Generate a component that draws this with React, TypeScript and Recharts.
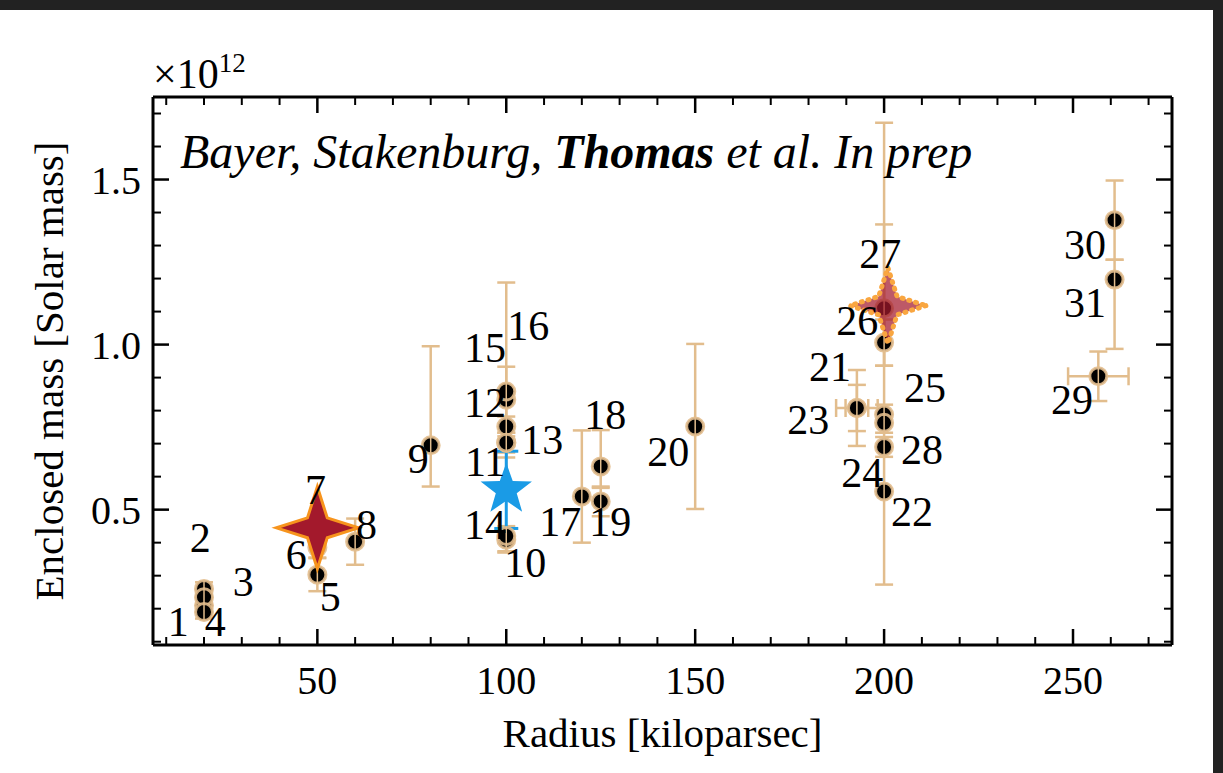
import React from "react";
import { ScatterChart, Scatter, XAxis, YAxis, ErrorBar } from "recharts";

// galaxies (black dots with tan error bars)
const pointIds = [1, 2, 3, 4, 5, 6, 8, 9, 10, 11, 12, 13, 14, 15, 16, 17, 18, 19, 20, 21, 22, 23, 24, 25, 26, 27, 28, 29, 30, 31];
const radius = [20, 20, 20, 20, 50, 50, 60, 80, 100, 100, 100, 100, 100, 100, 100, 120, 125, 125, 150, 192.8, 200, 192.8, 200, 200, 200, 200, 200, 256.7, 261, 261];
const mass = [0.21, 0.26, 0.235, 0.19, 0.303, 0.385, 0.403, 0.695, 0.409, 0.703, 0.752, 0.703, 0.42, 0.833, 0.858, 0.54, 0.631, 0.525, 0.752, 0.808, 0.555, 0.808, 0.69, 0.788, 1.006, 1.11, 0.763, 0.904, 1.377, 1.197];
const massErrLow = [0.02, 0.02, 0.02, 0.02, 0.05, 0.03, 0.07, 0.125, 0.035, 0.045, 0.03, 0.03, 0.05, 0.1, 0.33, 0.14, 0.065, 0.045, 0.25, 0.115, 0.282, 0.07, 0.03, 0.03, 0.07, 0.174, 0.03, 0.075, 0.12, 0.21];
const massErrHigh = [0.02, 0.02, 0.02, 0.02, 0.05, 0.03, 0.07, 0.3, 0.035, 0.045, 0.03, 0.03, 0.03, 0.1, 0.33, 0.2, 0.11, 0.045, 0.25, 0.115, 1.117, 0.07, 0.03, 0.03, 0.07, 0.254, 0.03, 0.075, 0.12, 0.06];
const radiusErr = [0, 0, 0, 0, 0, 0, 0, 0, 0, 0, 0, 0, 0, 0, 0, 0, 0, 0, 0, 3, 0, 5.5, 0, 0, 0, 0, 0, 8, 0, 0];

// number labels (data coordinates of the text centre)
const labelText = ["1", "2", "3", "4", "5", "6", "7", "8", "9", "10", "11", "12", "13", "14", "15", "16", "17", "18", "19", "20", "21", "22", "23", "24", "25", "26", "27", "28", "29", "30", "31"];
const labelRadius = [13.2, 19, 30.4, 23, 53.4, 44.4, 49.5, 63, 76.7, 105, 94.4, 94.4, 109.5, 94.4, 94.4, 105.8, 114.3, 126.2, 127.5, 142.9, 185.7, 207.4, 179.9, 194.2, 210.8, 192.9, 199, 210, 249.7, 253.2, 253.2];
const labelMass = [0.161, 0.415, 0.282, 0.161, 0.236, 0.364, 0.561, 0.455, 0.652, 0.339, 0.645, 0.824, 0.712, 0.455, 0.991, 1.055, 0.464, 0.788, 0.464, 0.676, 0.933, 0.494, 0.773, 0.612, 0.87, 1.07, 1.273, 0.682, 0.833, 1.303, 1.127];

// highlighted objects
const mwRadius = [50];
const mwMass = [0.445];
const m31Radius = [201];
const m31Mass = [1.118];
const blueRadius = [100];
const blueMass = [0.56];
const blueErr = [0.117];

const xTicks = [10, 20, 30, 40, 50, 60, 70, 80, 90, 100, 110, 120, 130, 140, 150, 160, 170, 180, 190, 200, 210, 220, 230, 240, 250, 260, 270];
const yTicks = [0.1, 0.2, 0.3, 0.4, 0.5, 0.6, 0.7, 0.8, 0.9, 1.0, 1.1, 1.2, 1.3, 1.4, 1.5, 1.6, 1.7];

const points = pointIds.map((id, i) => ({
  id,
  x: radius[i],
  y: mass[i],
  ey: [massErrLow[i], massErrHigh[i]],
  ex: radiusErr[i] || undefined,
}));
const labels = labelText.map((t, i) => ({ t, x: labelRadius[i], y: labelMass[i] }));
const mw = mwRadius.map((x, i) => ({ x, y: mwMass[i] }));
const m31 = m31Radius.map((x, i) => ({ x, y: m31Mass[i] }));
const blue = blueRadius.map((x, i) => ({ x, y: blueMass[i], ey: blueErr[i] }));

const SERIF = "'Liberation Serif', 'Times New Roman', serif";
const TAN = "#e2bd8d";
const X_DOMAIN: [number, number] = [6.5, 276.2];
const Y_DOMAIN: [number, number] = [0.09, 1.75];

const isMajorX = (v: number) => v % 50 === 0;
const isMajorY = (v: number) => Math.round(v * 10) % 5 === 0;

function BottomTick({ x, y, payload }: any) {
  const major = isMajorX(payload.value);
  return (
    <g>
      <line x1={x} y1={y} x2={x} y2={y - (major ? 16 : 8)} stroke="#000" strokeWidth={major ? 2.5 : 2} />
      {major && (
        <text x={x} y={y + 49} textAnchor="middle" fontSize={40} fontFamily={SERIF} fill="#000">
          {payload.value}
        </text>
      )}
    </g>
  );
}

function TopTick({ x, y, payload }: any) {
  const major = isMajorX(payload.value);
  return <line x1={x} y1={y} x2={x} y2={y + (major ? 16 : 8)} stroke="#000" strokeWidth={major ? 2.5 : 2} />;
}

function LeftTick({ x, y, payload }: any) {
  const major = isMajorY(payload.value);
  return (
    <g>
      <line x1={x} y1={y} x2={x + (major ? 16 : 8)} y2={y} stroke="#000" strokeWidth={major ? 2.5 : 2} />
      {major && (
        <text x={x - 12} y={y + 14} textAnchor="end" fontSize={40} fontFamily={SERIF} fill="#000">
          {payload.value.toFixed(1)}
        </text>
      )}
    </g>
  );
}

function RightTick({ x, y, payload }: any) {
  const major = isMajorY(payload.value);
  return <line x1={x} y1={y} x2={x - (major ? 16 : 8)} y2={y} stroke="#000" strokeWidth={major ? 2.5 : 2} />;
}

function Dot({ cx, cy }: any) {
  if (cx == null || cy == null) return null;
  return (
    <g>
      <circle cx={cx} cy={cy} r={8.5} fill="#000" stroke={TAN} strokeWidth={3} strokeOpacity={0.9} />
      <line x1={cx} y1={cy - 9} x2={cx} y2={cy + 9} stroke={TAN} strokeWidth={1.5} />
    </g>
  );
}

const Nothing = () => null;

function starPath(cx: number, cy: number, n: number, R: number, r: number, start: number) {
  const pts: string[] = [];
  for (let i = 0; i < n * 2; i++) {
    const a = start + (i * Math.PI) / n;
    const rad = i % 2 === 0 ? R : r;
    pts.push(`${cx + rad * Math.cos(a)},${cy + rad * Math.sin(a)}`);
  }
  return "M" + pts.join("L") + "Z";
}

function RedStar({ cx, cy }: any) {
  return <path d={starPath(cx, cy, 4, 41, 14, 0)} fill="#a3192c" stroke="#f7941d" strokeWidth={3} />;
}

function PaleStar({ cx, cy }: any) {
  return (
    <path
      d={starPath(cx, cy, 4, 38, 13, 0)}
      fill="#a3192c"
      fillOpacity={0.72}
      stroke="#f9a640"
      strokeWidth={5}
      strokeDasharray="1 6"
      strokeLinecap="round"
    />
  );
}

function BlueStar({ cx, cy }: any) {
  return <path d={starPath(cx, cy, 5, 27, 11, -Math.PI / 2)} fill="#1a9be6" />;
}

function NumLabel({ cx, cy, payload }: any) {
  return (
    <text x={cx} y={cy + 14} textAnchor="middle" fontSize={42} fontFamily={SERIF} fill="#000">
      {payload.t}
    </text>
  );
}

export default function App() {
  return (
    <div style={{ position: "absolute", left: 0, top: 0, width: 1223, height: 773, background: "#222" }}>
      <div style={{ position: "absolute", left: 0, top: 10, width: 1213, height: 763, background: "#fff" }}>
        <ScatterChart width={1212} height={763} margin={{ top: 86, right: 39, left: 0, bottom: 0 }}>
          <XAxis
            xAxisId="b"
            type="number"
            dataKey="x"
            domain={X_DOMAIN}
            allowDataOverflow
            ticks={xTicks}
            interval={0}
            height={128}
            tickSize={0}
            tickMargin={0}
            tick={BottomTick}
            axisLine={{ stroke: "#000", strokeWidth: 3 }}
            label={{ value: "Radius [kiloparsec]", position: "insideBottom", offset: 26, fontSize: 41, fontFamily: SERIF, fill: "#000" }}
          />
          <XAxis
            xAxisId="t"
            orientation="top"
            type="number"
            dataKey="x"
            domain={X_DOMAIN}
            allowDataOverflow
            ticks={xTicks}
            interval={0}
            height={1}
            tickSize={0}
            tickMargin={0}
            tick={TopTick}
            axisLine={{ stroke: "#000", strokeWidth: 3 }}
          />
          <YAxis
            yAxisId="l"
            type="number"
            dataKey="y"
            domain={Y_DOMAIN}
            allowDataOverflow
            ticks={yTicks}
            interval={0}
            width={153}
            tickSize={0}
            tickMargin={0}
            tick={LeftTick}
            axisLine={{ stroke: "#000", strokeWidth: 3 }}
            label={{
              value: "Enclosed mass [Solar mass]",
              angle: -90,
              position: "insideLeft",
              offset: 48,
              fontSize: 41,
              fontFamily: SERIF,
              fill: "#000",
              style: { textAnchor: "middle" },
            }}
          />
          <YAxis
            yAxisId="r"
            orientation="right"
            type="number"
            dataKey="y"
            domain={Y_DOMAIN}
            allowDataOverflow
            ticks={yTicks}
            interval={0}
            width={1}
            tickSize={0}
            tickMargin={0}
            tick={RightTick}
            axisLine={{ stroke: "#000", strokeWidth: 3 }}
          />

          {/* invisible series tied to the top/right frame axes */}
          <Scatter xAxisId="t" yAxisId="r" data={points} shape={Nothing} isAnimationActive={false} />

          <Scatter xAxisId="b" yAxisId="l" data={points} shape={Dot} isAnimationActive={false}>
            <ErrorBar dataKey="ey" direction="y" stroke={TAN} strokeWidth={2.5} width={9} isAnimationActive={false} />
            <ErrorBar dataKey="ex" direction="x" stroke={TAN} strokeWidth={2.5} width={9} isAnimationActive={false} />
          </Scatter>
          <Scatter xAxisId="b" yAxisId="l" data={blue} shape={BlueStar} isAnimationActive={false}>
            <ErrorBar dataKey="ey" direction="y" stroke="#1a9be6" strokeWidth={3} width={12} isAnimationActive={false} />
          </Scatter>
          <Scatter xAxisId="b" yAxisId="l" data={mw} shape={RedStar} isAnimationActive={false} />
          <Scatter xAxisId="b" yAxisId="l" data={m31} shape={PaleStar} isAnimationActive={false} />
          <Scatter xAxisId="b" yAxisId="l" data={labels} shape={NumLabel} isAnimationActive={false} />
        </ScatterChart>

        <svg width={1212} height={763} style={{ position: "absolute", left: 0, top: 0, pointerEvents: "none" }}>
          <text x={153} y={78} fontSize={42} fontFamily={SERIF} fill="#000">
            ×10
            <tspan dy={-16} fontSize={27}>
              12
            </tspan>
          </text>
          <text x={180} y={158} fontSize={48} fontFamily={SERIF} fontStyle="italic" fill="#000">
            Bayer, Stakenburg, <tspan fontWeight="bold">Thomas</tspan> et al. In prep
          </text>
        </svg>
      </div>
    </div>
  );
}
